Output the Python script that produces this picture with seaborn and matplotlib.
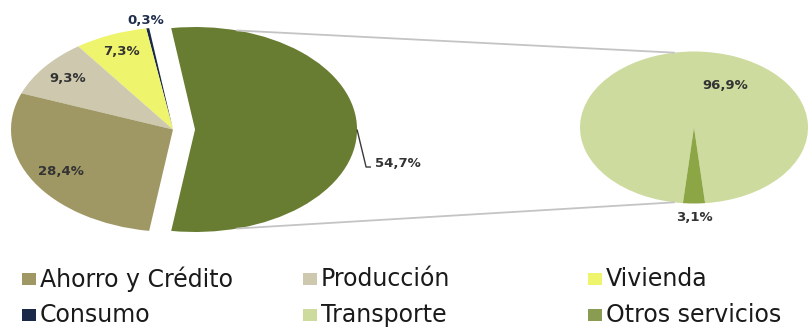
import numpy as np
import matplotlib
matplotlib.use("Agg")
import matplotlib.pyplot as plt
import seaborn as sns
from matplotlib.patches import Rectangle, ConnectionPatch

# ---------------- data ----------------
main_labels = ["Transporte + Otros servicios", "Consumo", "Vivienda", "Producción", "Ahorro y Crédito"]
main_values = [54.7, 0.3, 7.3, 9.3, 28.4]
main_text = ["54,7%", "0,3%", "7,3%", "9,3%", "28,4%"]

sub_labels = ["Transporte", "Otros servicios"]
sub_values = [96.9, 3.1]
sub_text = ["96,9%", "3,1%"]

legend_labels = ["Ahorro y Crédito", "Producción", "Vivienda",
                 "Consumo", "Transporte", "Otros servicios"]

# ---------------- style ----------------
sns.set_theme(style="white")
plt.rcParams["font.family"] = ["DejaVu Sans"]

colors = {
    "Transporte + Otros servicios": "#697d32",
    "Consumo": "#1a2947",
    "Vivienda": "#eef46c",
    "Producción": "#cdc8ae",
    "Ahorro y Crédito": "#a09864",
    "Transporte": "#cddb9f",
    "Otros servicios": "#8ca646",
}
legend_colors = dict(colors)
legend_colors["Otros servicios"] = "#8a9b52"

W, H = 808, 332
fig = plt.figure(figsize=(W / 100, H / 100), dpi=100)
fig.patch.set_facecolor("white")


def pie_axes(cx, cy, rx, ry):
    ax = fig.add_axes([0, 0, 1, 1], facecolor="none")
    return ax, (-cx / rx, (W - cx) / rx), ((cy - H) / ry, cy / ry)


def finish(ax, xl, yl):
    ax.set_aspect("auto")
    ax.set_xlim(*xl)
    ax.set_ylim(*yl)
    ax.axis("off")


label_kw = dict(fontsize=9.5, fontweight="bold", color="#333333",
                ha="center", va="center")

# ---------------- main pie ----------------
ax1, xl1, yl1 = pie_axes(173, 129.5, 162, 102.5)
explode_main = [0.136, 0, 0, 0, 0]
start_main = -main_values[0] * 3.6 / 2
wedges1, _ = ax1.pie(main_values, colors=[colors[l] for l in main_labels],
                     startangle=start_main, counterclock=True,
                     explode=explode_main, wedgeprops=dict(linewidth=0))
finish(ax1, xl1, yl1)

label_r_main = [1.0, 1.08, 0.83, 0.82, 0.80]
for i, w in enumerate(wedges1):
    mid = np.deg2rad((w.theta1 + w.theta2) / 2)
    cx, cy = w.center
    if i == 0:
        # leader line from the outer edge of the exploded slice
        p0 = (cx + np.cos(mid), cy + np.sin(mid))
        p1 = (p0[0] + 0.056, p0[1] - 0.366)
        p2 = (p1[0] + 0.03, p1[1])
        ax1.plot([p0[0], p1[0], p2[0]], [p0[1], p1[1], p2[1]],
                 color="#3a3a3a", lw=1.0, solid_capstyle="butt")
        ax1.text(p2[0] + 0.025, p2[1] + 0.03, main_text[i],
                 **{**label_kw, "ha": "left"})
    else:
        r = label_r_main[i]
        col = "#1f2d4d" if main_labels[i] == "Consumo" else "#333333"
        ax1.text(cx + r * np.cos(mid), cy + r * np.sin(mid), main_text[i],
                 **{**label_kw, "color": col})

# ---------------- secondary pie ----------------
ax2, xl2, yl2 = pie_axes(694, 127.5, 114, 76)
start_sub = -90 + sub_values[1] * 3.6 / 2
wedges2, _ = ax2.pie(sub_values, colors=[colors[l] for l in sub_labels],
                     startangle=start_sub, counterclock=True,
                     wedgeprops=dict(linewidth=0))
finish(ax2, xl2, yl2)

label_pos_sub = [(64, 0.62), (-90, 1.18)]  # (angle deg, radius)
for i, (ang, r) in enumerate(label_pos_sub):
    a = np.deg2rad(ang)
    ax2.text(r * np.cos(a), r * np.sin(a), sub_text[i], **label_kw)

# ---------------- connector lines ----------------
bc = wedges1[0].center
for a1, a2 in [(75, 100), (-75, -100)]:
    t1, t2 = np.deg2rad(a1), np.deg2rad(a2)
    con = ConnectionPatch(xyA=(bc[0] + np.cos(t1), bc[1] + np.sin(t1)),
                          coordsA=ax1.transData,
                          xyB=(np.cos(t2), np.sin(t2)), coordsB=ax2.transData,
                          color="#c4c4c4", lw=1.3)
    fig.add_artist(con)

# ---------------- legend ----------------
col_x = [22, 303, 588]
row_y = [279, 315]
for k, lab in enumerate(legend_labels):
    r, c = divmod(k, 3)
    x, y = col_x[c], row_y[r]
    fig.add_artist(Rectangle(((x) / W, 1 - (y + 6) / H), 14 / W, 12 / H,
                             transform=fig.transFigure,
                             facecolor=legend_colors[lab], edgecolor="none"))
    fig.text((x + 18) / W, 1 - y / H, lab, fontsize=17,
             color="#1a1a1a", ha="left", va="center")

fig.savefig("out.png", dpi=100, facecolor="white")
